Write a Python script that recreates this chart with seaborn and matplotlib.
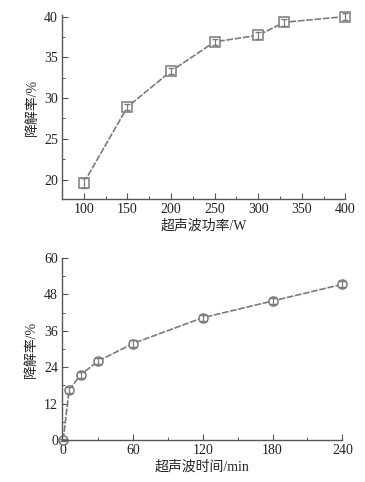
import numpy as np
import pandas as pd
import matplotlib
matplotlib.use("Agg")
import matplotlib.pyplot as plt
import seaborn as sns
from matplotlib.ticker import MultipleLocator

# power series
power = [100, 150, 200, 250, 300, 330, 400]
rate_power = [19.6, 28.9, 33.3, 36.9, 37.7, 39.3, 40.0]
err_power = [0.6, 0.4, 0.4, 0.4, 0.4, 0.4, 0.4]

# time series
time_min = [0, 5, 15, 30, 60, 120, 180, 240]
rate_time = [0.0, 16.5, 21.5, 26.0, 31.8, 40.3, 45.8, 51.3]
err_time = [0.3, 1.0, 1.0, 1.0, 1.0, 1.0, 1.0, 1.0]

sns.set_style("ticks")
plt.rcParams['font.family'] = ['Liberation Serif', 'Noto Sans CJK SC', 'DejaVu Sans']
plt.rcParams['axes.unicode_minus'] = False

line_col = '#7a7a7a'
axis_col = '#555555'

fig = plt.figure(figsize=(3.65, 4.82), dpi=100)
ax1 = fig.add_axes([0.170, 0.587, 0.776, 0.382])
ax2 = fig.add_axes([0.170, 0.087, 0.768, 0.378])

df1 = pd.DataFrame({'power': power, 'rate': rate_power})
sns.lineplot(data=df1, x='power', y='rate', ax=ax1, color=line_col, lw=1.2,
             linestyle=(0, (4, 1)), marker='s', markersize=6.5, markerfacecolor='white',
             markeredgecolor=line_col, markeredgewidth=1.1, clip_on=False)
ax1.errorbar(power, rate_power, yerr=err_power, fmt='none', ecolor=line_col,
             elinewidth=0.9, capsize=2.5, clip_on=False)
ax1.set_xlim(75, 400)
ax1.set_ylim(17.6, 40.2)
ax1.xaxis.set_major_locator(MultipleLocator(50))
ax1.xaxis.set_minor_locator(MultipleLocator(25))
ax1.yaxis.set_major_locator(MultipleLocator(5))
ax1.yaxis.set_minor_locator(MultipleLocator(2.5))
ax1.set_xlabel('超声波功率/W', fontsize=10, labelpad=2)
ax1.set_ylabel('降解率/%', fontsize=10, labelpad=4)

df2 = pd.DataFrame({'time': time_min, 'rate': rate_time})
sns.lineplot(data=df2, x='time', y='rate', ax=ax2, color=line_col, lw=1.2,
             linestyle=(0, (4, 1)), marker='o', markersize=6.5, markerfacecolor='white',
             markeredgecolor=line_col, markeredgewidth=1.1, clip_on=False)
ax2.errorbar(time_min, rate_time, yerr=err_time, fmt='none', ecolor=line_col,
             elinewidth=0.9, capsize=3, clip_on=False)
ax2.set_xlim(-1, 240)
ax2.set_ylim(0, 60)
ax2.xaxis.set_major_locator(MultipleLocator(60))
ax2.xaxis.set_minor_locator(MultipleLocator(30))
ax2.yaxis.set_major_locator(MultipleLocator(12))
ax2.yaxis.set_minor_locator(MultipleLocator(6))
ax2.set_xlabel('超声波时间/min', fontsize=10, labelpad=2)
ax2.set_ylabel('降解率/%', fontsize=10, labelpad=4)

for ax in (ax1, ax2):
    sns.despine(ax=ax)
    for s in ('left', 'bottom'):
        ax.spines[s].set_color(axis_col)
        ax.spines[s].set_linewidth(1.0)
    ax.tick_params(which='major', direction='in', length=4, width=0.8,
                   colors=axis_col, labelcolor='#222222', labelsize=10, pad=3)
    ax.tick_params(which='minor', direction='in', length=2, width=0.7, colors=axis_col)
    ax.grid(False)

fig.savefig('out.png', dpi=100)
